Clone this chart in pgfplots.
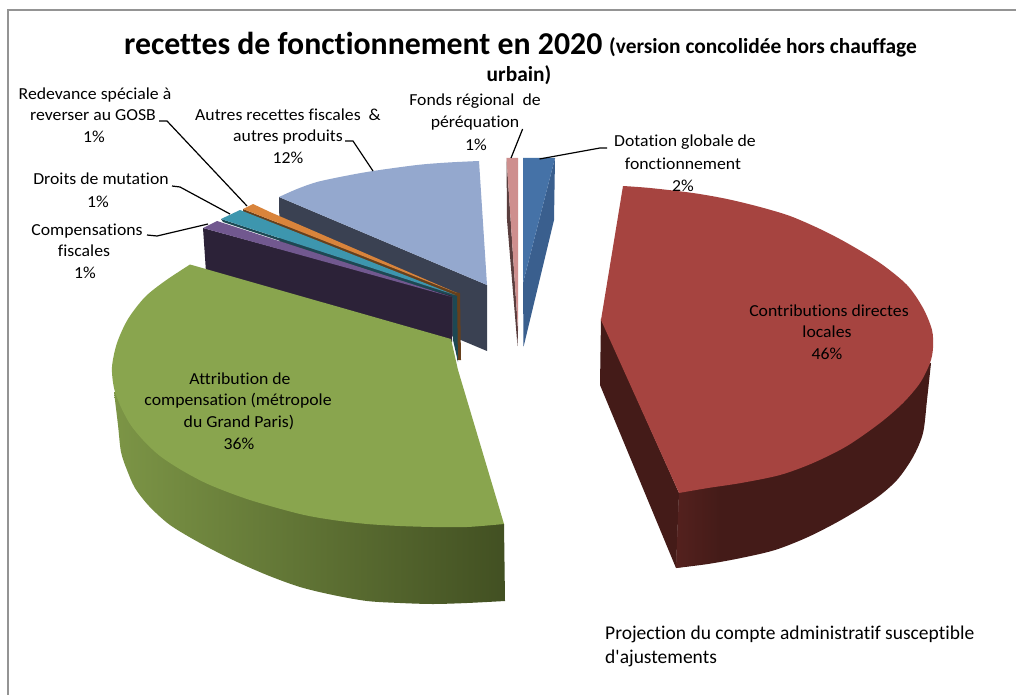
\documentclass[border=0pt]{standalone}
\usepackage{pgfplots}
\pgfplotsset{compat=1.18}
\usepackage{fontspec}
\setmainfont{Carlito}[Ligatures=NoCommon]
\definecolor{cRed}{HTML}{A64440}
\definecolor{cRedD}{HTML}{441B18}
\definecolor{cRedE}{HTML}{54211E}
\definecolor{cGreen}{HTML}{89A54E}
\definecolor{cGreenL}{HTML}{7C9546}
\definecolor{cGreenD}{HTML}{425022}
\definecolor{cLB}{HTML}{94A8CE}
\definecolor{cLBD}{HTML}{3A4152}
\definecolor{cOr}{HTML}{D9843B}
\definecolor{cBr}{HTML}{66401C}
\definecolor{cTe}{HTML}{3D96AE}
\definecolor{cTeD}{HTML}{1D4853}
\definecolor{cPu}{HTML}{71588F}
\definecolor{cPuD}{HTML}{2C2238}
\definecolor{cPk}{HTML}{CE8F8E}
\definecolor{cPkD}{HTML}{5A3E3E}
\definecolor{cBl}{HTML}{4572A7}
\definecolor{cBlD}{HTML}{3A5F8E}
\newcommand{\lab}[3]{\node[anchor=base,inner sep=0pt,font=\fontsize{16.8}{20}\selectfont] at (axis cs:#1,#2) {\scalebox{1.055}[1]{#3}};}
\begin{document}
\begin{tikzpicture}
\begin{axis}[hide axis,scale only axis,width=1016pt,height=695pt,
  xmin=0,xmax=1016,ymin=0,ymax=695,y dir=reverse,clip=true]
% background and frame
\addplot[fill=white,draw=none] coordinates {(0,0)(1016,0)(1016,695)(0,695)} --cycle;
\addplot[draw=black!42,line width=1.5pt] coordinates {(1016,10)(8,10)(8,695)};
% Autres recettes
\addplot[fill=cLBD,draw=none] coordinates {(279,197)(487,285)(487,351)(280,264)} --cycle;
\addplot[smooth,fill=cLB,draw=none] coordinates {(279,197)(297,189)(317,182)(345,176)(373,171)(417,165)(448,162.5)(479,161)} -- (487,285) -- cycle;
% Redevance
\addplot[fill=cBr,draw=none] coordinates {(243,209)(243,212)(457,296)(457,360)(461,360)(460,293)(455,292)} --cycle;
\addplot[fill=cOr,draw=none] coordinates {(243,209)(253,204)(270,212)(457,293)} --cycle;
% Droits
\addplot[fill=cTeD,draw=none] coordinates {(221,219)(223,222)(453,298)(453,340)(458,362)(457,296)} --cycle;
\addplot[fill=cTe,draw=none] coordinates {(221,219)(240,210)(455,295)} --cycle;
% Compensations
\addplot[fill=cPuD,draw=none] coordinates {(203,228)(452,296)(452,342)(206,272)} --cycle;
\addplot[fill=cPu,draw=none] coordinates {(203,228)(217,221)(452,297)} --cycle;
% Attribution de compensation
\addplot[smooth,left color=cGreenL,right color=cGreenD,draw=none] coordinates {(114,392)(118,425)(121,452)(127,470)(135,488)(149,506)(170,525)(200,543)(233,560)(267,575)(300,587)(333,595)(367,601)(400,603)(433,604)(467,603)(505,601)} -- (504,524) -- (300,400) -- cycle;
\addplot[smooth,fill=cGreen,draw=none] coordinates {(190,264.5)(165,281)(145,297)(128,319)(117,343)(112,367)(114,388)(120,405)(130,424)(143,440)(160,456)(183,471)(210,485)(250,500)(300,514)(333,520)(367,524)(400,526)(433,527)(467,527)(504,524)} -- (458,370) -- (451,339) -- cycle;
% Contributions directes
\addplot[fill=cRedD,draw=none] coordinates {(601,318)(600,385)(676,568)(679,493)} --cycle;
\addplot[smooth,fill=cRedD,draw=none] coordinates {(676,568)(708,564)(741,558)(775,550)(808,537)(841,520)(875,499)(897,480)(913,457)(923,433)(927,400)(931,363)} -- (800,400) -- (679,493) -- cycle;
\addplot[left color=cRedE,right color=cRedD,draw=none] coordinates {(679,493)(720,486)(720,561)(676,568)} --cycle;
\addplot[smooth,fill=cRed,draw=none] coordinates {(623,186)(650,188)(693,193)(727,199)(760,207)(790,216)(820,229)(847,243)(880,263)(907,285)(923,308)(932,330)(933,348)(930,363)(920,383)(903,403)(880,423)(847,446)(813,463)(780,475)(741,483)(708,488)(679,493)} -- (601,320) -- cycle;
% Fonds regional
\addplot[fill=cPkD,draw=none] coordinates {(506.5,158)(507,220)(517.5,346)(518,330)} --cycle;
\addplot[fill=cPk,draw=none] coordinates {(506.5,158)(518,158)(518,330)} --cycle;
% Dotation
\addplot[fill=cBlD,draw=none] coordinates {(555,158)(554,220)(523.5,347)(523,283)} --cycle;
\addplot[fill=cBl,draw=none] coordinates {(523,158)(555,158)(523,283)} --cycle;
% leader lines
\addplot[black,line width=1.2pt] coordinates {(539.5,159)(600,148)(607,148)};
\addplot[black,line width=1.2pt] coordinates {(511,158)(522.6,129)};
\addplot[black,line width=1.2pt] coordinates {(345,141)(353,141)(373,171)};
\addplot[black,line width=1.2pt] coordinates {(159,121)(167,121)(247,206)};
\addplot[black,line width=1.2pt] coordinates {(172,186)(180,187)(230,214)};
\addplot[black,line width=1.2pt] coordinates {(147,235)(157,236)(208,224)};
% title
\node[anchor=base west,inner sep=0pt,font=\fontsize{31.8}{38}\selectfont\bfseries] at (axis cs:124,55) {recettes de fonctionnement en 2020};
\node[anchor=base west,inner sep=0pt,font=\fontsize{21.4}{26}\selectfont\bfseries] at (axis cs:609,54) {(version concolidée hors chauffage};
\node[anchor=base,inner sep=0pt,font=\fontsize{21.4}{26}\selectfont\bfseries] at (axis cs:519,82) {urbain)};
% labels
\lab{95}{100}{Redevance spéciale à}
\lab{93}{121}{reverser au GOSB}
\lab{94}{143}{1\%}
\lab{288}{121}{Autres recettes fiscales \ \&}
\lab{288}{142}{autres produits}
\lab{288}{164}{12\%}
\lab{475}{106}{Fonds régional \ de}
\lab{475}{128}{péréquation}
\lab{476}{150}{1\%}
\lab{685}{147}{Dotation globale de}
\lab{683}{169}{fonctionnement}
\lab{683}{191}{2\%}
\lab{101}{185}{Droits de mutation}
\lab{98}{207}{1\%}
\lab{87}{235}{Compensations}
\lab{84}{256}{fiscales}
\lab{85}{278}{1\%}
\lab{829}{316}{Contributions directes}
\lab{827}{337}{locales}
\lab{827}{359}{46\%}
\lab{240}{384}{Attribution de}
\lab{238}{405}{compensation (métropole}
\lab{239}{427}{du Grand Paris)}
\lab{239}{449}{36\%}
\node[anchor=base west,inner sep=0pt,font=\fontsize{19.5}{23}\selectfont] at (axis cs:605,639) {Projection du compte administratif susceptible};
\node[anchor=base west,inner sep=0pt,font=\fontsize{19.5}{23}\selectfont] at (axis cs:605,663) {d\textquotesingle ajustements};
\end{axis}
\end{tikzpicture}
\end{document}
